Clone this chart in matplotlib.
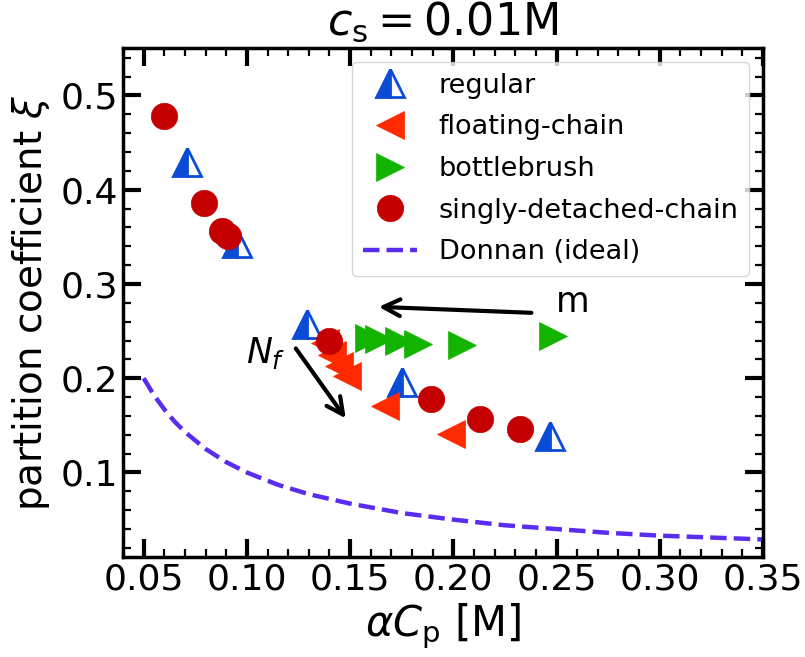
import matplotlib
matplotlib.use("Agg")
import matplotlib.pyplot as plt

# ---- data ----
regular_x = [0.071, 0.095, 0.129, 0.175, 0.247]
regular_y = [0.429, 0.343, 0.258, 0.196, 0.139]

floating_x = [0.138, 0.141, 0.1446, 0.1485, 0.167, 0.199]
floating_y = [0.237, 0.2245, 0.213, 0.202, 0.171, 0.1405]

bottle_x = [0.159, 0.164, 0.1735, 0.183, 0.204, 0.2485]
bottle_y = [0.243, 0.2415, 0.239, 0.2366, 0.235, 0.245]

singly_x = [0.060, 0.079, 0.088, 0.091, 0.140, 0.189, 0.213, 0.2325]
singly_y = [0.478, 0.386, 0.356, 0.351, 0.240, 0.178, 0.157, 0.146]

donnan_x = [0.050, 0.055, 0.060, 0.065, 0.070, 0.080, 0.090, 0.100, 0.115,
            0.130, 0.150, 0.175, 0.200, 0.225, 0.250, 0.275, 0.300, 0.325, 0.350]
donnan_y = [0.200, 0.182, 0.167, 0.154, 0.143, 0.125, 0.111, 0.100, 0.087,
            0.077, 0.067, 0.057, 0.050, 0.044, 0.040, 0.036, 0.033, 0.031, 0.029]

labels = ["regular", "floating-chain", "bottlebrush", "singly-detached-chain", "Donnan (ideal)"]
xtick_vals = [0.05, 0.10, 0.15, 0.20, 0.25, 0.30, 0.35]
xtick_labels = ["0.05", "0.10", "0.15", "0.20", "0.25", "0.30", "0.35"]
ytick_vals = [0.1, 0.2, 0.3, 0.4, 0.5]
ytick_labels = ["0.1", "0.2", "0.3", "0.4", "0.5"]

C_REG = "#0a4cd6"
C_FLO = "#ff2a00"
C_BOT = "#13b400"
C_SIN = "#c40000"
C_DON = "#5a2cf0"

plt.rcParams['font.family'] = ['DejaVu Sans']
plt.rcParams['mathtext.fontset'] = 'dejavusans'

fig = plt.figure(figsize=(8.05, 6.57), dpi=100)
ax = fig.add_axes([0.1528, 0.1517, 0.7950, 0.7748])

ax.plot(regular_x, regular_y, ls='none', marker='^', ms=19.5, fillstyle='left',
        markerfacecolor=C_REG, markerfacecoloralt='white', markeredgecolor=C_REG,
        markeredgewidth=2.0, label=labels[0])
ax.plot(floating_x, floating_y, ls='none', marker='<', ms=20, color=C_FLO,
        markeredgewidth=0.5, label=labels[1])
ax.plot(bottle_x, bottle_y, ls='none', marker='>', ms=20, color=C_BOT,
        markeredgewidth=0.5, label=labels[2])
ax.plot(singly_x, singly_y, ls='none', marker='o', ms=19, color=C_SIN,
        markeredgewidth=0.5, label=labels[3])
ax.plot(donnan_x, donnan_y, ls='--', lw=3.2, color=C_DON, label=labels[4])

ax.set_xlim(0.04, 0.35)
ax.set_ylim(0.01, 0.55)
ax.set_xticks(xtick_vals)
ax.set_xticklabels(xtick_labels)
ax.set_yticks(ytick_vals)
ax.set_yticklabels(ytick_labels)
ax.xaxis.set_minor_locator(matplotlib.ticker.MultipleLocator(0.01))
ax.yaxis.set_minor_locator(matplotlib.ticker.MultipleLocator(0.02))

ax.tick_params(which='both', direction='in', top=True, right=True, labelsize=26)
ax.tick_params(which='major', length=13, width=3)
ax.tick_params(which='minor', length=6, width=1.6)
for s in ax.spines.values():
    s.set_linewidth(2.5)

ax.set_xlabel(r"$\alpha C_{\rm p}$ [M]", fontsize=30, labelpad=4)
ax.set_ylabel(r"partition coefficient $\xi$", fontsize=28, labelpad=6)
ax.set_title(r"$c_{\rm s} = 0.01$M", fontsize=32, pad=10)

ax.annotate("", xy=(0.1639, 0.2757), xytext=(0.2378, 0.2694),
            arrowprops=dict(arrowstyle="->", lw=3, color='black',
                            mutation_scale=30, shrinkA=0, shrinkB=0))
ax.text(0.2579, 0.2807, "m", fontsize=25, ha='center', va='center')
ax.annotate("", xy=(0.1479, 0.1574), xytext=(0.1237, 0.2316),
            arrowprops=dict(arrowstyle="->", lw=3, color='black',
                            mutation_scale=30, shrinkA=0, shrinkB=0))
ax.text(0.1093, 0.2263, r"$N_f$", fontsize=25, ha='center', va='center')

ax.legend(loc='upper right', fontsize=19.5, labelspacing=0.58)

fig.savefig("out.png", dpi=100)
